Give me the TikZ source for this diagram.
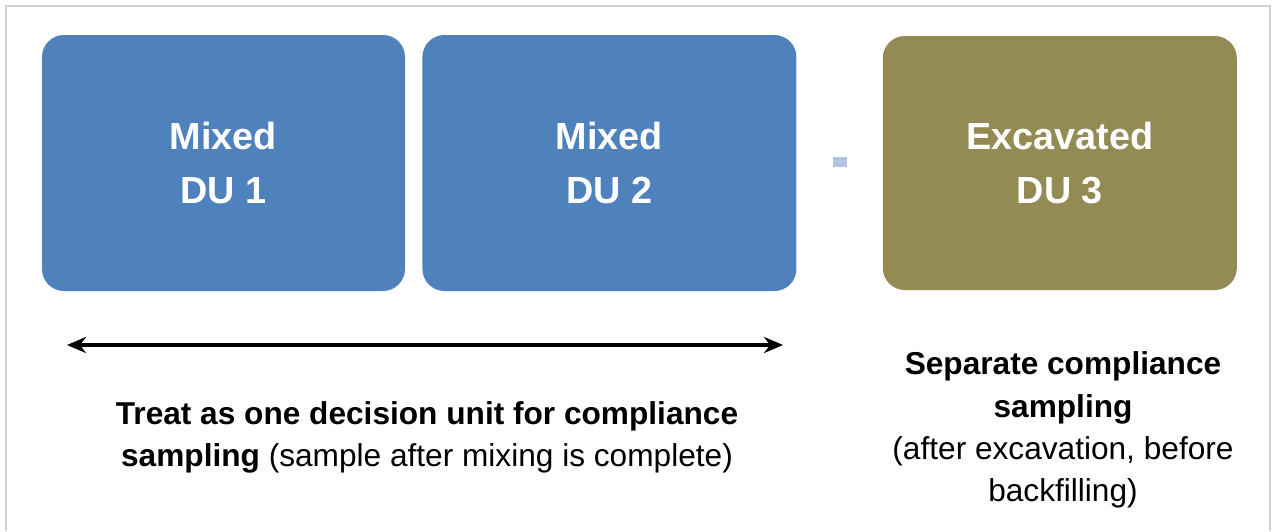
\documentclass[tikz,border=0pt]{standalone}
\usepackage{fontspec}
\setmainfont{Liberation Sans}
\usetikzlibrary{arrows.meta,positioning}

\definecolor{dublue}{RGB}{79,129,189}
\definecolor{duolive}{RGB}{148,138,84}
\definecolor{dotblue}{RGB}{178,196,226}

\begin{document}
\begin{tikzpicture}[node distance=0.32cm, thick]
    % Styles
    \tikzstyle{du_box} = [rectangle, rounded corners=0.44cm, minimum height=5.12cm, text=white, align=center, font=\bfseries\fontsize{21.5}{31}\selectfont]
    \tikzstyle{mixed} = [du_box, fill=dublue]
    \tikzstyle{excavated} = [du_box, fill=duolive]
    \tikzstyle{arrow} = [{Stealth[length=0.38cm,width=0.32cm]}-{Stealth[length=0.38cm,width=0.32cm]}, line width=2pt]
    \tikzstyle{note} = [align=center, font=\fontsize{18}{24}\selectfont]

    % Page and frame
    \useasboundingbox (0,0) rectangle (25.46,-10.62);
    \draw [gray!35, line width=1.2pt] (0.12,-10.62) -- (0.12,-0.12) -- (25.4,-0.12) -- (25.4,-10.62);

    % Decision units
    \node [mixed, minimum width=7.26cm] (du1) at (4.47,-3.26) {Mixed\\DU 1};
    \node [mixed, minimum width=7.48cm, right=of du1] (du2) {Mixed\\DU 2};
    \node [excavated, minimum width=7.08cm, minimum height=5.08cm, right=1.7cm of du2] (du3) {Excavated\\DU 3};
    \node [fill=dotblue, minimum width=0.28cm, minimum height=0.2cm, inner sep=0pt] (dot) at (16.8,-3.24) {};

    % Span of mixed units
    \coordinate (span_l) at (1.34,-6.9);
    \coordinate (span_r) at (15.66,-6.9);
    \draw [arrow] (span_l) -- (span_r);

    % Notes
    \node [note] (mixed_note) at (8.54,-8.74) {\textbf{Treat as one decision unit for compliance}\\\textbf{sampling} (sample after mixing is complete)};
    \node [note] (exc_note) at (21.26,-8.6) {\textbf{Separate compliance}\\\textbf{sampling}\\(after excavation, before\\backfilling)};
\end{tikzpicture}
\end{document}
